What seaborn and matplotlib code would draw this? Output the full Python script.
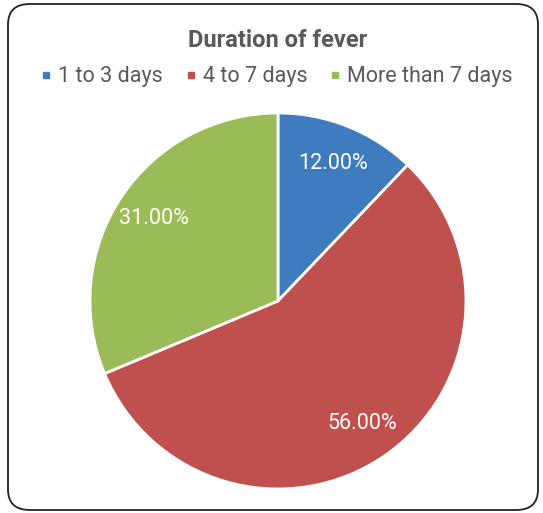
import seaborn as sns
import matplotlib.pyplot as plt
from matplotlib.lines import Line2D
from matplotlib.patches import FancyBboxPatch

# dados
categorias = ['1 to 3 days', '4 to 7 days', 'More than 7 days']
valores = [12.0, 56.0, 31.0]
cores = ['#3F7BBF', '#C0504D', '#9BBB59']

sns.set_theme(style='white')
plt.rcParams['font.family'] = ['Roboto', 'DejaVu Sans']

fig = plt.figure(figsize=(5.43, 5.13), dpi=100, facecolor='white')

# borda arredondada
borda = FancyBboxPatch((8 / 543, 3 / 513), 530 / 543, 506 / 513,
                       boxstyle='round,pad=0,rounding_size=0.04',
                       transform=fig.transFigure, facecolor='none',
                       edgecolor='#222222', linewidth=1.3, zorder=0)
fig.patches.append(borda)

ax = fig.add_axes([0.1657, 0.0468, 0.6924, 0.733])
ax.set_facecolor('none')
wedges, textos = ax.pie(valores, colors=cores, startangle=90, counterclock=False,
                        labels=[f'{v:.2f}%' for v in valores], labeldistance=0.79,
                        wedgeprops=dict(edgecolor='white', linewidth=2),
                        textprops=dict(color='white', fontsize=15.5))
for t in textos:
    t.set_horizontalalignment('center')
    t.set_verticalalignment('center')
ax.set_aspect('equal')
ax.set_xlim(-1, 1)
ax.set_ylim(-1, 1)

fig.text(0.512, 0.922, 'Duration of fever', ha='center', va='center',
         fontsize=17, fontweight='bold', color='#595959')

handles = [Line2D([], [], marker='s', linestyle='', markersize=5, color=c) for c in cores]
fig.legend(handles, categorias, loc='center', bbox_to_anchor=(0.51, 0.85), ncol=3,
           frameon=False, fontsize=15.5, handlelength=0.5, handletextpad=0.3,
           columnspacing=1.05, labelcolor='#595959')

plt.savefig('out.png', dpi=100)
plt.close()
